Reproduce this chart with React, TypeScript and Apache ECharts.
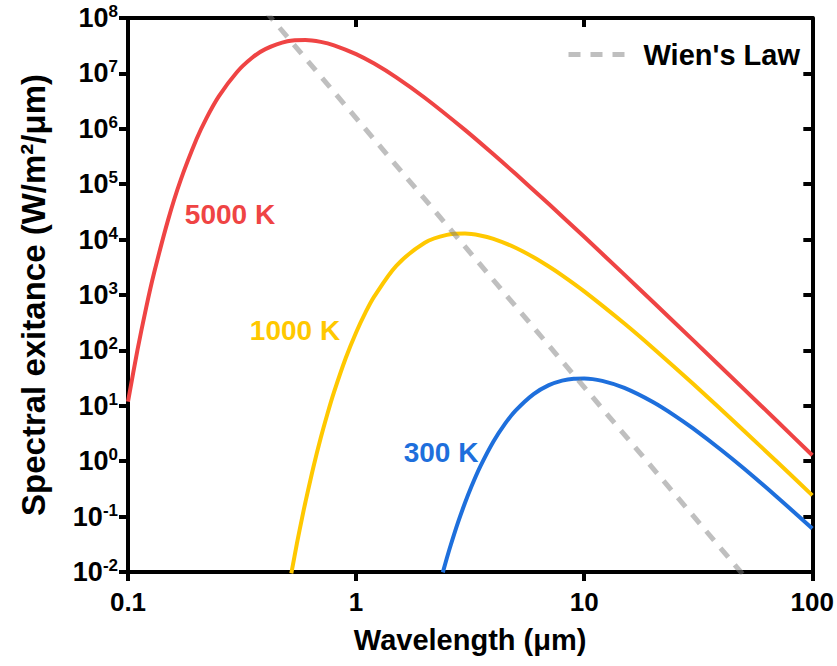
import React, { useEffect, useRef } from "react";
import * as echarts from "echarts";

// Wavelength (µm) and spectral exitance (W/m²/µm)
const wl5000 = [0.1, 0.11, 0.12, 0.13, 0.15, 0.17, 0.2, 0.22, 0.25, 0.3, 0.35, 0.4, 0.5, 0.6, 0.7, 0.8, 1, 1.2, 1.5, 2, 3, 4, 5, 7, 10, 15, 20, 30, 50, 70, 100];
const m5000 = [11.9, 101, 580, 2460, 22960, 117400, 659500, 1.515e6, 3.843e6, 1.051e7, 1.915e7, 2.746e7, 3.802e7, 4.01e7, 3.711e7, 3.217e7, 2.231e7, 1.504e7, 8.48e6, 3.636e6, 9.566e5, 3.47e5, 1.539e5, 43790, 11220, 2330, 756, 153, 20.2, 5.31, 1.28];

const wl1000 = [0.52, 0.55, 0.58, 0.6, 0.65, 0.7, 0.75, 0.8, 0.9, 1, 1.1, 1.2, 1.5, 2, 2.5, 3, 3.5, 4, 5, 6, 7, 8, 10, 15, 20, 30, 50, 70, 100];
const m1000 = [0.00947, 0.0324, 0.0961, 0.185, 0.786, 2.64, 7.35, 17.7, 72.3, 211, 485, 933, 3364, 8788, 12170, 12830, 11870, 10290, 7140, 4812, 3269, 2266, 1164, 306, 111, 25.0, 3.59, 0.976, 0.242];

const wl300 = [2.4, 2.5, 2.6, 2.8, 3, 3.2, 3.5, 4, 4.5, 5, 6, 7, 8, 9, 10, 12, 15, 20, 25, 30, 40, 50, 70, 100];
const m300 = [0.00985, 0.01785, 0.0307, 0.0792, 0.1756, 0.3455, 0.797, 2.267, 4.77, 8.18, 16.26, 23.58, 28.51, 30.88, 31.18, 28.15, 20.99, 11.69, 6.6, 3.9, 1.577, 0.744, 0.226, 0.0608];

const wienWl = [0.4, 50];
const wienM = [1.34e8, 0.0087];

const curveNames = ["5000 K", "1000 K", "300 K"];
const curveColors = ["#ef4444", "#ffc800", "#1e6fdc"];
const wienName = "Wien's Law";

const xTicks = ["0.1", "1", "10", "100"];

const FONT = "'Liberation Sans', Arial, sans-serif";

function pairs(xs: number[], ys: number[]) {
  return xs.map((x, i) => [x, ys[i]]);
}

export default function App() {
  const ref = useRef<HTMLDivElement>(null);
  useEffect(() => {
    if (!ref.current) return;
    const chart = echarts.init(ref.current, null, { renderer: "svg" });
    const axisLine = { show: true, onZero: false, lineStyle: { color: "#000", width: 4 } };
    const tick = (inside: boolean) => ({ show: true, inside, interval: 0, length: 9, lineStyle: { width: 4, color: "#000" } });
    const yLabel = (v: number) => {
      const e = Math.round(Math.log10(v));
      return "{b|10}{s|" + e + "}";
    };
    const xLabel = (v: number) => {
      const e = Math.round(Math.log10(v));
      return xTicks[e + 1] ?? String(v);
    };
    const xBase = { type: "log", logBase: 10, min: 0.1, max: 100, interval: 1, splitLine: { show: false }, minorTick: { show: false } };
    const yBase = { type: "log", logBase: 10, min: 0.01, max: 1e8, interval: 1, splitLine: { show: false }, minorTick: { show: false } };
    const option: any = {
      animation: false,
      backgroundColor: "#fff",
      grid: { left: 128, right: 19, top: 18, bottom: 94, containLabel: false },
      legend: {
        data: [wienName],
        right: 37,
        top: 40,
        padding: 0,
        itemWidth: 58,
        itemHeight: 30,
        itemStyle: { opacity: 0 },
        lineStyle: { color: "#808080", opacity: 0.5, width: 5, type: [12, 10] },
        textStyle: { fontSize: 29, fontWeight: "bold", color: "#000", fontFamily: FONT, padding: [0, 0, 0, 12] },
      },
      xAxis: [
        {
          ...xBase,
          name: "Wavelength (μm)",
          nameLocation: "middle",
          nameGap: 53,
          nameTextStyle: { fontSize: 29, fontWeight: "bold", color: "#000", fontFamily: FONT },
          axisLine,
          axisTick: tick(false),
          axisLabel: { interval: 0, formatter: xLabel, fontSize: 26, fontWeight: "bold", color: "#000", fontFamily: FONT, margin: 17 },
        },
        {
          ...xBase,
          position: "top",
          axisLine,
          axisTick: tick(true),
          axisLabel: { show: true, interval: 0, formatter: () => "", fontSize: 1 },
        },
      ],
      yAxis: [
        {
          ...yBase,
          name: "Spectral exitance (W/m²/μm)",
          nameLocation: "middle",
          nameGap: 78,
          nameRotate: 90,
          nameTextStyle: { fontSize: 33, fontWeight: "bold", color: "#000", fontFamily: FONT },
          axisLine,
          axisTick: tick(false),
          axisLabel: {
            interval: 0,
            formatter: yLabel,
            margin: 10,
            color: "#000",
            rich: {
              b: { fontSize: 27, fontWeight: "bold", color: "#000", fontFamily: FONT, lineHeight: 30 },
              s: { fontSize: 17, fontWeight: "bold", color: "#000", fontFamily: FONT, lineHeight: 17, verticalAlign: "top" },
            },
          },
        },
        {
          ...yBase,
          position: "right",
          axisLine,
          axisTick: tick(true),
          axisLabel: { show: false, interval: 0 },
        },
      ],
      series: [
        {
          name: wienName,
          type: "line",
          xAxisIndex: 1,
          yAxisIndex: 1,
          data: pairs(wienWl, wienM),
          symbol: "none",
          clip: true,
          lineStyle: { color: "#808080", opacity: 0.5, width: 5, type: [12, 10] },
          itemStyle: { color: "#808080", opacity: 0.5 },
          z: 3,
        },
        ...[
          [wl5000, m5000],
          [wl1000, m1000],
          [wl300, m300],
        ].map(([xs, ys], i) => ({
          name: curveNames[i],
          type: "line",
          data: pairs(xs, ys),
          symbol: "none",
          smooth: 0.3,
          clip: true,
          lineStyle: { color: curveColors[i], width: 4 },
          itemStyle: { color: curveColors[i] },
          z: 2,
        })),
      ],
      graphic: [
        { type: "text", x: 230, y: 214, style: { text: curveNames[0], fill: curveColors[0], font: `bold 28px ${FONT}`, textAlign: "center", textVerticalAlign: "middle" } },
        { type: "text", x: 295, y: 330, style: { text: curveNames[1], fill: curveColors[1], font: `bold 28px ${FONT}`, textAlign: "center", textVerticalAlign: "middle" } },
        { type: "text", x: 441, y: 452, style: { text: curveNames[2], fill: curveColors[2], font: `bold 28px ${FONT}`, textAlign: "center", textVerticalAlign: "middle" } },
      ],
    };
    chart.setOption(option);
    return () => chart.dispose();
  }, []);
  return <div ref={ref} style={{ position: "fixed", left: 0, top: 0, width: 837, height: 666 }} />;
}
